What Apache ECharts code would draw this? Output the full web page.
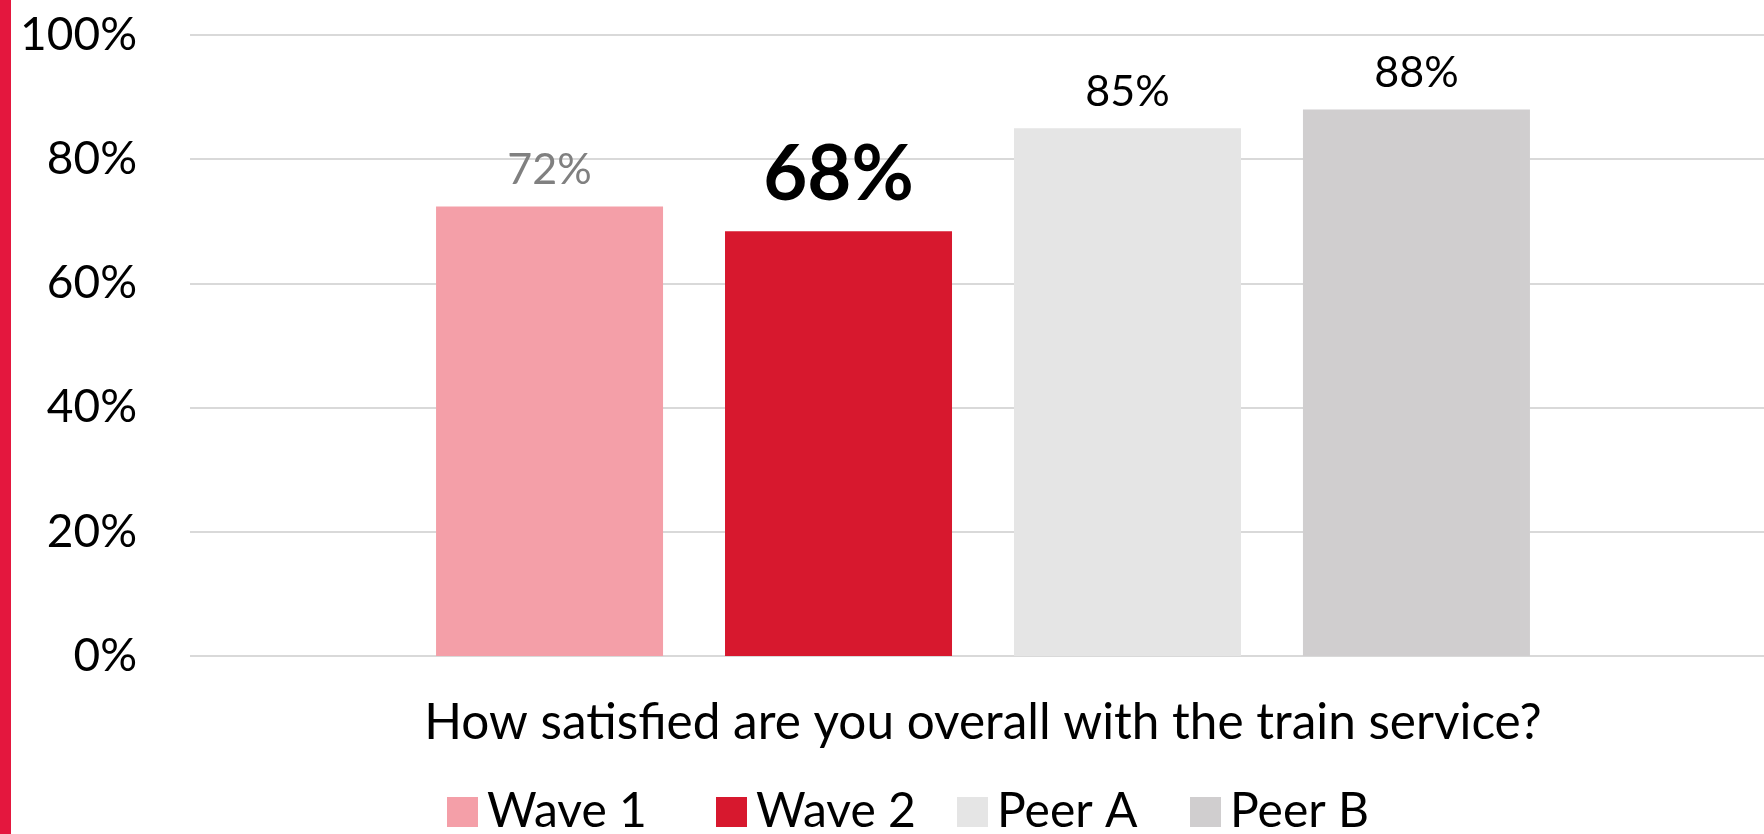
<!DOCTYPE html>
<html>
<head>
<meta charset="utf-8">
<script src="https://cdn.jsdelivr.net/npm/echarts@6/dist/echarts.min.js"></script>
<style>
  html, body { margin: 0; padding: 0; background: #ffffff; }
  #chart { width: 1764px; height: 834px; }
</style>
</head>
<body>
<div id="chart"></div>
<script>
const categories = ['How satisfied are you overall with the train service?'];
const seriesNames = ['Wave 1', 'Wave 2', 'Peer A', 'Peer B'];
const wave1 = [72.4];
const wave2 = [68.4];
const peerA = [85];
const peerB = [88];
const yTicks = [0, 20, 40, 60, 80, 100];

const FONT = 'Lato';
const colors = ['#F49FA8', '#D7182E', '#E5E5E5', '#D0CECF'];
const legendLefts = [442, 711, 952, 1185];

function labelCfg(color, size, weight, dist) {
  return {
    show: true, position: 'top', distance: dist,
    formatter: (p) => Math.round(p.value) + '%',
    color: color, fontSize: size, fontWeight: weight, fontFamily: FONT
  };
}

const chart = echarts.init(document.getElementById('chart'), null, { renderer: 'canvas' });
chart.setOption({
  animation: false,
  backgroundColor: '#ffffff',
  graphic: [{
    type: 'rect', left: 0, top: 0,
    shape: { x: 0, y: 0, width: 11, height: 834 },
    style: { fill: '#E4173E' }
  }],
  grid: { left: 190, top: 35, right: -12, bottom: 178, containLabel: false, outerBoundsMode: 'none' },
  legend: seriesNames.map((n, i) => ({
    data: [n],
    left: legendLefts[i], top: 783,
    icon: 'rect', itemWidth: 31, itemHeight: 30,
    textStyle: { fontFamily: FONT, fontSize: 48, color: '#000000', padding: [0, 0, 0, 4] }
  })),
  xAxis: {
    type: 'category', data: categories,
    axisLine: { show: false }, axisTick: { show: false },
    axisLabel: { margin: 42, fontFamily: FONT, fontSize: 49.5, color: '#000000' }
  },
  yAxis: {
    type: 'value', min: yTicks[0], max: yTicks[yTicks.length - 1], interval: 20,
    axisLine: { show: false }, axisTick: { show: false },
    splitLine: { lineStyle: { color: '#D9D9D9', width: 2 } },
    axisLabel: { formatter: '{value}%', margin: 53, fontFamily: FONT, fontSize: 46, color: '#000000' }
  },
  series: [
    { name: seriesNames[0], type: 'bar', data: wave1, barWidth: 227, barGap: '27.3%',
      itemStyle: { color: colors[0] }, label: labelCfg('#808080', 43, 'normal', 15) },
    { name: seriesNames[1], type: 'bar', data: wave2, barWidth: 227, barGap: '27.3%',
      itemStyle: { color: colors[1] }, label: labelCfg('#000000', 76, 'bold', 18) },
    { name: seriesNames[2], type: 'bar', data: peerA, barWidth: 227, barGap: '27.3%',
      itemStyle: { color: colors[2] }, label: labelCfg('#000000', 43, 'normal', 15) },
    { name: seriesNames[3], type: 'bar', data: peerB, barWidth: 227, barGap: '27.3%',
      itemStyle: { color: colors[3] }, label: labelCfg('#000000', 43, 'normal', 15) }
  ]
});
</script>
</body>
</html>
